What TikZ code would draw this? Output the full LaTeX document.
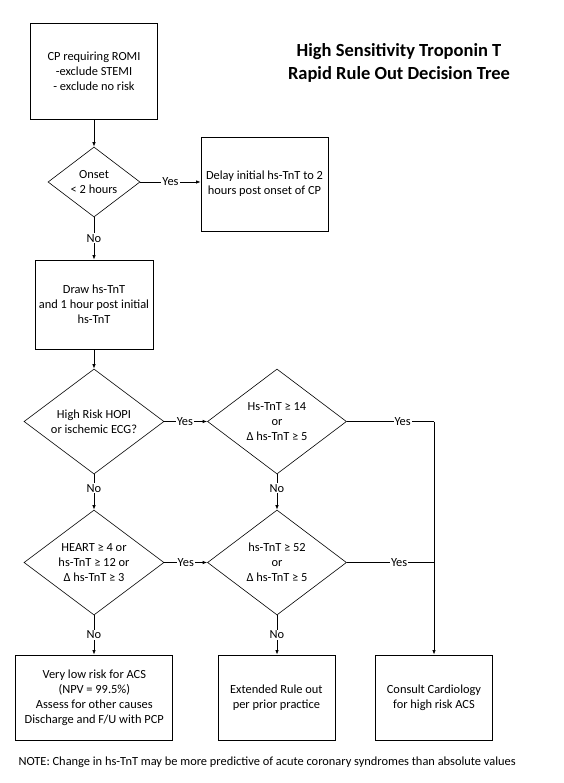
\documentclass[tikz,border=0pt]{standalone}
\usepackage{fontspec}
\setmainfont{Carlito}
\usetikzlibrary{shapes.geometric,arrows.meta}
\begin{document}
\begin{tikzpicture}[x=1pt,y=-1pt,
  txt/.style={font=\fontsize{12.4}{15}\selectfont, align=center},
  box/.style={draw, line width=0.8pt, txt, inner sep=0pt},
  dec/.style={draw, shape=diamond, aspect=1.333, line width=0.6pt, txt, inner sep=0pt, minimum width=140pt, minimum height=105pt},
  arr/.style={-{Latex[length=4.5pt,width=3.5pt]}, line width=0.8pt},
  lab/.style={fill=white, inner sep=1pt, txt}
]
\useasboundingbox (0,0) rectangle (563,783);
\node[font=\bfseries\fontsize{18.5}{22.5}\selectfont, align=center] (title) at (399,63) {High Sensitivity Troponin T\\Rapid Rule Out Decision Tree};
\node[box, minimum width=127pt, minimum height=96pt] (b1) at (94,71) {CP requiring ROMI\\-exclude STEMI\\- exclude no risk};
\node[dec, minimum width=92pt, minimum height=70pt] (d1) at (94,182) {Onset\\< 2 hours};
\node[box, minimum width=127pt, minimum height=94pt] (b2) at (264.5,184) {Delay initial hs-TnT to 2\\hours post onset of CP};
\node[box, minimum width=118pt, minimum height=89pt] (b3) at (94,304.5) {Draw hs-TnT\\and 1 hour post initial\\hs-TnT};
\node[dec] (d2) at (94,421.5) {High Risk HOPI\\or ischemic ECG?};
\node[dec, minimum width=139pt] (d3) at (277,421.5) {Hs-TnT ≥ 14\\or\\Δ hs-TnT ≥ 5};
\node[dec] (d4) at (94,562.5) {HEART ≥ 4 or\\hs-TnT ≥ 12 or\\Δ hs-TnT ≥ 3};
\node[dec, minimum width=139pt] (d5) at (277,562.5) {hs-TnT ≥ 52\\or\\Δ hs-TnT ≥ 5};
\node[box, minimum width=157pt, minimum height=85pt] (bl) at (94.3,697.5) {Very low risk for ACS\\(NPV = 99.5\%)\\Assess for other causes\\Discharge and F/U with PCP};
\node[box, minimum width=117pt, minimum height=85pt] (bm) at (276.4,697.5) {Extended Rule out\\per prior practice};
\node[box, minimum width=117pt, minimum height=85pt] (br) at (434,697.5) {Consult Cardiology\\for high risk ACS};
\node[anchor=west, txt] (note) at (15,762) {NOTE: Change in hs-TnT may be more predictive of acute coronary syndromes than absolute values};
\draw[arr] (b1.south) -- (b1.south |- d1.north);
\draw[arr] (d1.east) -- node[lab]{Yes} (d1.east -| b2.west);
\draw[arr] (d1.south) -- node[lab]{No} (d1.south |- b3.north);
\draw[arr] (b3.south) -- (b3.south |- d2.north);
\draw[arr] (d2.east) -- node[lab,pos=0.48]{Yes} (d3.west);
\draw[arr] (d2.south) -- node[lab,pos=0.4]{No} (d4.north);
\draw[arr] (d3.south) -- node[lab,pos=0.4]{No} (d5.north);
\draw[arr] (d4.east) -- node[lab]{Yes} (d5.west);
\draw[arr] (d4.south) -- node[lab]{No} (d4.south |- bl.north);
\draw[arr] (d5.south) -- node[lab]{No} (d5.south |- bm.north);
\coordinate (j1) at (d3.east -| br.north);
\coordinate (j2) at (d5.east -| br.north);
\draw[line width=0.8pt] (d3.east) -- node[lab,pos=0.64]{Yes} (j1);
\draw[line width=0.8pt] (d5.east) -- node[lab,pos=0.6]{Yes} (j2);
\draw[arr] (j1) -- (br.north);
\end{tikzpicture}
\end{document}
